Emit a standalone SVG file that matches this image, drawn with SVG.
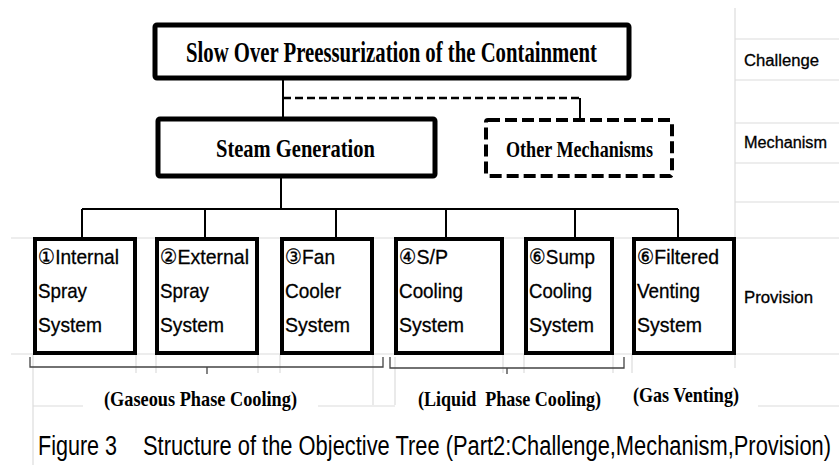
<svg xmlns="http://www.w3.org/2000/svg" width="839" height="465" viewBox="0 0 839 465">
<style>
.grid{stroke:#dcdcdc;stroke-width:1.2;fill:none}
.box{fill:#fff;stroke:#000;stroke-width:4}
.bigbox{fill:#fff;stroke:#000;stroke-width:5}
.dbox{fill:#fff;stroke:#000;stroke-width:4;stroke-dasharray:12 5}
.con{stroke:#000;stroke-width:2;fill:none}
.dcon{stroke:#000;stroke-width:2.5;fill:none;stroke-dasharray:8 4}
.brk{stroke:#444;stroke-width:1.3;fill:none}
.ser{font-family:"Liberation Serif","DejaVu Serif",serif;font-weight:bold;fill:#000;white-space:pre}
.san{font-family:"Liberation Sans","DejaVu Sans",sans-serif;fill:#000;font-size:21px;stroke:#000;stroke-width:0.3}
.lab{font-family:"Liberation Sans","DejaVu Sans",sans-serif;fill:#000;font-size:16px;stroke:#000;stroke-width:0.3}
.cap{font-family:"Liberation Sans","DejaVu Sans",sans-serif;fill:#000;font-size:27px}
</style>
<rect width="839" height="465" fill="#fff"/>
<g id="grid">
<path class="grid" d="M735 8V368M735 39H839M735 80H839M735 123H839M735 163H839M735 202H839M11 238H839M11 354H839M33 354V465M136 354V373M156 354V373M258 354V373M280 354V373M373 354V405M395 357V405M503 354V373M524 354V373M613 354V373M632 354V373M33 406H83M318 406H395M758 406H839"/>
</g>
<g id="connectors">
<path class="con" d="M283 80V117"/>
<path class="dcon" d="M283 98H580"/>
<path class="con" d="M580 98V118"/>
<path class="con" d="M281 178V209M82 209H678M82 209V237M205 209V237M336 209V237M446 209V237M575 209V237M678 209V237"/>
</g>
<g id="challenge">
<rect class="bigbox" x="155" y="25" width="474" height="53" rx="2"/>
<text class="ser" x="186" y="62" font-size="30" textLength="411" lengthAdjust="spacingAndGlyphs">Slow Over Preessurization of the Containment</text>
</g>
<g id="steam">
<rect class="bigbox" x="158" y="119" width="277" height="57" rx="2"/>
<text class="ser" x="216" y="157" font-size="26" textLength="159" lengthAdjust="spacingAndGlyphs">Steam Generation</text>
</g>
<g id="other">
<rect class="dbox" x="486" y="120" width="186" height="56" rx="2"/>
<text class="ser" x="506" y="157" font-size="23" textLength="147" lengthAdjust="spacingAndGlyphs">Other Mechanisms</text>
</g>
<g id="p1">
<rect class="box" x="35" y="239" width="100" height="114"/>
<text class="san" x="38" y="264" textLength="81" lengthAdjust="spacingAndGlyphs">①Internal</text>
<text class="san" x="38" y="298" textLength="49" lengthAdjust="spacingAndGlyphs">Spray</text>
<text class="san" x="38" y="332" textLength="64" lengthAdjust="spacingAndGlyphs">System</text>
</g>
<g id="p2">
<rect class="box" x="157" y="239" width="100" height="114"/>
<text class="san" x="160" y="264" textLength="89" lengthAdjust="spacingAndGlyphs">②External</text>
<text class="san" x="160" y="298" textLength="49" lengthAdjust="spacingAndGlyphs">Spray</text>
<text class="san" x="160" y="332" textLength="64" lengthAdjust="spacingAndGlyphs">System</text>
</g>
<g id="p3">
<rect class="box" x="282" y="239" width="90" height="114"/>
<text class="san" x="285" y="264" textLength="50" lengthAdjust="spacingAndGlyphs">③Fan</text>
<text class="san" x="285" y="298" textLength="56" lengthAdjust="spacingAndGlyphs">Cooler</text>
<text class="san" x="285" y="332" textLength="65" lengthAdjust="spacingAndGlyphs">System</text>
</g>
<g id="p4">
<rect class="box" x="396" y="239" width="106" height="114"/>
<text class="san" x="399" y="264" textLength="49" lengthAdjust="spacingAndGlyphs">④S/P</text>
<text class="san" x="399" y="298" textLength="64" lengthAdjust="spacingAndGlyphs">Cooling</text>
<text class="san" x="399" y="332" textLength="65" lengthAdjust="spacingAndGlyphs">System</text>
</g>
<g id="p5">
<rect class="box" x="526" y="239" width="86" height="114"/>
<text class="san" x="529" y="264" textLength="66" lengthAdjust="spacingAndGlyphs">⑥Sump</text>
<text class="san" x="529" y="298" textLength="63" lengthAdjust="spacingAndGlyphs">Cooling</text>
<text class="san" x="529" y="332" textLength="65" lengthAdjust="spacingAndGlyphs">System</text>
</g>
<g id="p6">
<rect class="box" x="634" y="239" width="100" height="114"/>
<text class="san" x="637" y="264" textLength="82" lengthAdjust="spacingAndGlyphs">⑥Filtered</text>
<text class="san" x="637" y="298" textLength="63" lengthAdjust="spacingAndGlyphs">Venting</text>
<text class="san" x="637" y="332" textLength="65" lengthAdjust="spacingAndGlyphs">System</text>
</g>
<g id="brackets">
<path class="brk" d="M30 357V367H383V357M207 367V374"/>
<path class="brk" d="M390 357V368H624V357M507 368V374"/>
</g>
<g id="groups">
<text class="ser" x="104" y="406" font-size="22" textLength="193" lengthAdjust="spacingAndGlyphs">(Gaseous Phase Cooling)</text>
<text class="ser" x="418" y="406" font-size="22" textLength="183" lengthAdjust="spacingAndGlyphs">(Liquid  Phase Cooling)</text>
<text class="ser" x="633" y="402" font-size="22" textLength="106" lengthAdjust="spacingAndGlyphs">(Gas Venting)</text>
</g>
<g id="levels">
<text class="lab" x="744" y="66" textLength="75" lengthAdjust="spacingAndGlyphs">Challenge</text>
<text class="lab" x="744" y="148" textLength="83" lengthAdjust="spacingAndGlyphs">Mechanism</text>
<text class="lab" x="744" y="303" textLength="69" lengthAdjust="spacingAndGlyphs">Provision</text>
</g>
<g id="caption">
<text class="cap" x="38" y="455" textLength="79" lengthAdjust="spacingAndGlyphs">Figure 3</text>
<text class="cap" x="143" y="455" textLength="688" lengthAdjust="spacingAndGlyphs">Structure of the Objective Tree (Part2:Challenge,Mechanism,Provision)</text>
</g>
</svg>
